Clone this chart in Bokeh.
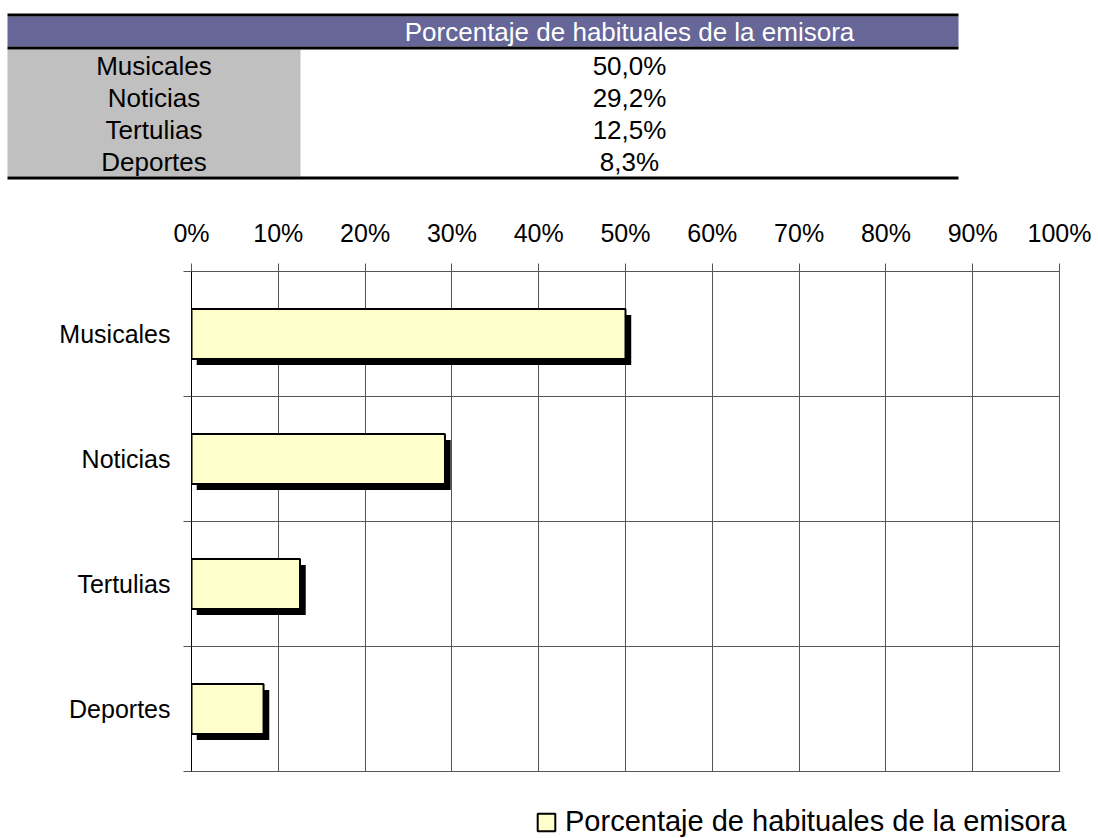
from bokeh.plotting import figure
from bokeh.models import Range1d, FixedTicker, Legend, LegendItem, ColumnDataSource
from bokeh.transform import dodge
from bokeh.core.properties import value
from bokeh.embed import file_html
from bokeh.resources import INLINE

# ---------------- data ----------------
categories = ["Musicales", "Noticias", "Tertulias", "Deportes"]
percentages = [50.0, 29.2, 12.5, 8.3]
series_name = "Porcentaje de habituales de la emisora"
x_tick_values = [0, 10, 20, 30, 40, 50, 60, 70, 80, 90, 100]
x_tick_labels = ["0%", "10%", "20%", "30%", "40%", "50%", "60%", "70%", "80%", "90%", "100%"]

# ---------------- styles ----------------
FONT = "Liberation Sans"
W = 1098
PURPLE = "#666699"
GRAY = "#C0C0C0"
BAR_FILL = "#FFFFCC"
GRID = "#555555"

# ---------------- table (top) ----------------
TH = 190
tbl = figure(width=W, height=TH, x_range=Range1d(0, W), y_range=Range1d(TH, 0),
             x_axis_type=None, y_axis_type=None, output_backend="svg",
             toolbar_location=None, min_border=0)
tbl.outline_line_color = None
tbl.background_fill_color = "white"

table_left, table_right = 7, 958
cat_col_right = 300
header_top, header_bottom = 16, 46
rows_top = 49
row_h = 31.75
rows_bottom = rows_top + row_h * len(categories)

tbl.quad(left=[table_left], right=[table_right], top=[header_top], bottom=[header_bottom],
         fill_color=PURPLE, line_color=None)
tbl.quad(left=[table_left], right=[cat_col_right], top=[rows_top], bottom=[rows_bottom],
         fill_color=GRAY, line_color=None)
tbl.quad(left=[table_left] * 3, right=[table_right] * 3,
         top=[header_top - 3, header_bottom, rows_bottom],
         bottom=[header_top, rows_top, rows_bottom + 3],
         fill_color="black", line_color=None)

tbl.text(x=[(cat_col_right + table_right) / 2], y=[(header_top + header_bottom) / 2],
         text=[series_name], text_color="white", text_font=value(FONT),
         text_font_size="26px", text_align="center", text_baseline="middle")

row_centers = [rows_top + row_h * (i + 0.5) + 1 for i in range(len(categories))]
value_texts = [f"{v:.1f}%".replace(".", ",") for v in percentages]
tbl.text(x=[(table_left + cat_col_right) / 2] * len(categories), y=row_centers, text=categories,
         text_color="black", text_font=value(FONT), text_font_size="26px",
         text_align="center", text_baseline="middle")
tbl.text(x=[(cat_col_right + table_right) / 2] * len(categories), y=row_centers,
         text=value_texts, text_color="black", text_font=value(FONT),
         text_font_size="26px", text_align="center", text_baseline="middle")

# ---------------- chart ----------------
n = len(categories)
ys = [i + 0.5 for i in range(n)]
src = ColumnDataSource(dict(cat=categories, y=ys, val=percentages))

p = figure(frame_width=868, frame_height=500,
           min_border_left=191, min_border_right=39, min_border_top=81, min_border_bottom=9,
           x_range=Range1d(0, 100), y_range=Range1d(n, 0),
           x_axis_location="above", output_backend="svg", toolbar_location=None)
p.outline_line_color = GRID
p.background_fill_color = "white"

shadow = p.hbar(y=dodge("y", 0.048), left=0.6, right=dodge("val", 0.66), height=0.4,
                fill_color="black", line_color=None, source=src)
bars = p.hbar(y="y", left=0, right="val", height=0.4, fill_color=BAR_FILL,
              line_color="black", line_width=2, source=src)

xa = p.xaxis[0]
xa.ticker = FixedTicker(ticks=x_tick_values)
xa.major_label_overrides = dict(zip(x_tick_values, x_tick_labels))
xa.axis_line_color = GRID
xa.major_tick_line_color = GRID
xa.major_tick_out = 8
xa.major_tick_in = 0
xa.minor_tick_line_color = None
xa.major_label_standoff = 17
xa.major_label_text_font = FONT
xa.major_label_text_font_size = "25px"
xa.major_label_text_color = "black"

ya = p.yaxis[0]
ya.ticker = FixedTicker(ticks=ys, minor_ticks=list(range(n + 1)))
ya.major_label_overrides = dict(zip(ys, categories))
ya.axis_line_color = "black"
ya.major_tick_line_color = None
ya.major_tick_out = 0
ya.major_tick_in = 0
ya.minor_tick_line_color = GRID
ya.minor_tick_out = 8
ya.minor_tick_in = 0
ya.major_label_standoff = 13
ya.major_label_text_font = FONT
ya.major_label_text_font_size = "25px"
ya.major_label_text_color = "black"

p.xgrid.grid_line_color = GRID
p.ygrid.grid_line_color = None
p.ygrid.minor_grid_line_color = GRID

# ---------------- legend (bottom) ----------------
LH = 58
leg = figure(width=W, height=LH, x_range=Range1d(0, W), y_range=Range1d(0, LH),
             x_axis_type=None, y_axis_type=None, output_backend="svg",
             toolbar_location=None, min_border=0)
leg.outline_line_color = None
leg.background_fill_color = "white"
# off-screen proxy renderer that only supplies the legend swatch style
swatch = leg.hbar(y=[-10 * LH], left=[0], right=[0], height=1, fill_color=BAR_FILL,
                  line_color="black", line_width=2)
legend = Legend(items=[LegendItem(label=series_name, renderers=[swatch])],
                location=(535, 0), orientation="vertical",
                glyph_width=22, glyph_height=22, label_standoff=8,
                padding=0, margin=0, spacing=0,
                border_line_color=None, background_fill_alpha=0,
                label_text_font=FONT, label_text_font_size="29px",
                label_text_color="black")
leg.add_layout(legend)

open("out.html", "w").write(file_html([tbl, p, leg], INLINE))
